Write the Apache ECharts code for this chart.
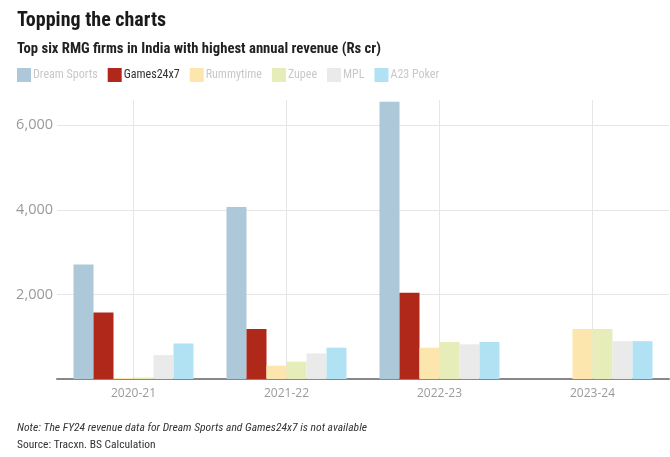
<!DOCTYPE html>
<html><head><meta charset="utf-8">
<script src="https://cdn.jsdelivr.net/npm/echarts@6/dist/echarts.min.js"></script>
<style>html,body{margin:0;padding:0;background:#fff;}#c{width:670px;height:457px;}</style>
</head><body><div id="c"></div>
<script>
const categories = ['2020-21', '2021-22', '2022-23', '2023-24'];
const seriesNames = ['Dream Sports', 'Games24x7', 'Rummytime', 'Zupee', 'MPL', 'A23 Poker'];
const dreamSports = [2710, 4070, 6560, null];
const games24x7 = [1575, 1180, 2040, null];
const rummytime = [25, 315, 740, 1180];
const zupee = [35, 410, 875, 1180];
const mpl = [565, 605, 820, 895];
const a23Poker = [840, 740, 875, 895];
const yTicks = [0, 2000, 4000, 6000];

const values = [dreamSports, games24x7, rummytime, zupee, mpl, a23Poker];
const colors = ['#adc8d8', '#b0281a', '#fde6ad', '#e6edb8', '#eaeaea', '#b0e2f4'];
const legendText = ['#c8c8c8', '#333333', '#c8c8c8', '#c8c8c8', '#c8c8c8', '#c8c8c8'];
const font = '"Liberation Sans Narrow", "Roboto Condensed", "DejaVu Sans Condensed", sans-serif';
const axisFont = '"Open Sans", "Noto Sans", sans-serif';

const chart = echarts.init(document.getElementById('c'), null, {renderer: 'canvas'});
chart.setOption({
  animation: false,
  textStyle: {fontFamily: font},
  title: [
    {text: 'Topping the charts', left: 17, top: 11, padding: 0,
     textStyle: {fontFamily: font, fontSize: 20, fontWeight: 'bold', color: '#1a1a1a'}},
    {text: 'Top six RMG firms in India with highest annual revenue (Rs cr)', left: 17, top: 42, padding: 0,
     textStyle: {fontFamily: font, fontSize: 14.7, fontWeight: 'bold', color: '#222'}},
    {text: 'Note: The FY24 revenue data for Dream Sports and Games24x7 is not available', left: 17, top: 422, padding: 0,
     textStyle: {fontFamily: font, fontSize: 11.6, fontStyle: 'italic', fontWeight: 'normal', color: '#333'}},
    {text: 'Source: Tracxn. BS Calculation', left: 17, top: 439, padding: 0,
     textStyle: {fontFamily: font, fontSize: 11.5, fontWeight: 'normal', color: '#333'}}
  ],
  legend: {
    left: 17, top: 68, padding: 0, itemWidth: 14, itemHeight: 14, itemGap: 10,
    icon: 'rect',
    data: seriesNames.map((n, i) => ({name: n, textStyle: {color: legendText[i]}})),
    textStyle: {fontFamily: font, fontSize: 12, padding: [0, 0, 0, -3]}
  },
  grid: {left: 57, right: 1, top: 100, bottom: 78, containLabel: false},
  xAxis: {
    type: 'category', data: categories,
    axisLine: {lineStyle: {color: '#888', width: 2}},
    axisTick: {show: false},
    axisLabel: {color: '#9a9a9a', fontSize: 12, margin: 9, fontFamily: axisFont},
    splitLine: {show: true, alignWithLabel: true, lineStyle: {color: '#e6e6e6', width: 1}}
  },
  yAxis: {
    type: 'value', min: 0, max: 6600, interval: 2000,
    axisLine: {show: false}, axisTick: {show: false},
    axisLabel: {
      color: '#9a9a9a', fontSize: 14.5, margin: 4, fontFamily: axisFont,
      formatter: v => (yTicks.indexOf(v) >= 0 && v !== 0) ? v.toLocaleString('en-US') : ''
    },
    splitLine: {lineStyle: {color: ['#e6e6e6', '#e6e6e6', '#e6e6e6', '#e6e6e6', 'rgba(0,0,0,0)']}}
  },
  series: seriesNames.map((n, i) => ({
    name: n, type: 'bar', data: values[i], barWidth: 20, barGap: '0%',
    itemStyle: {color: colors[i]}
  }))
});
</script></body></html>
